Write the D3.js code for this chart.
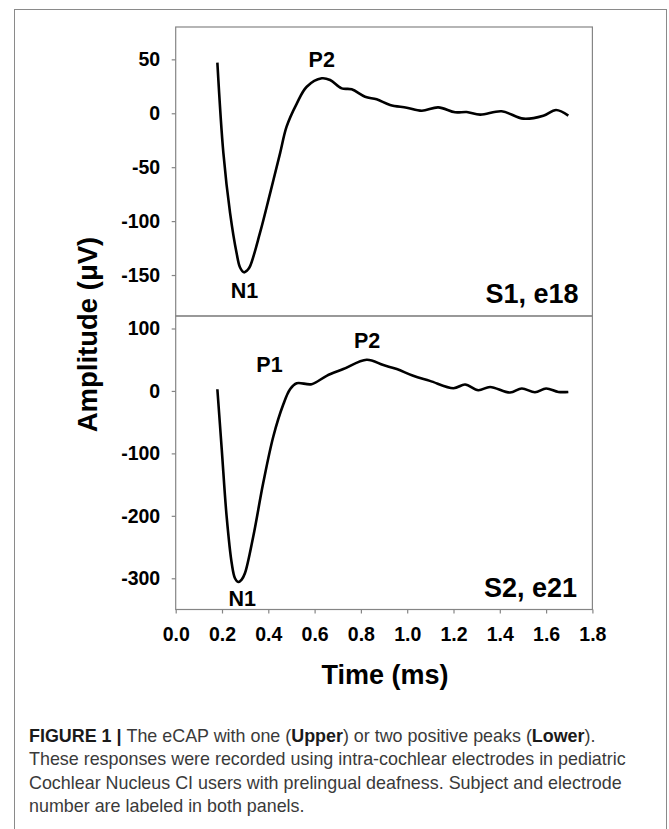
<!DOCTYPE html>
<html>
<head>
<meta charset="utf-8">
<script src="https://cdn.jsdelivr.net/npm/d3@7"></script>
<style>
  html, body { margin: 0; padding: 0; background: #fff; }
  svg { display: block; }
</style>
</head>
<body>
<svg id="chart" width="669" height="829"></svg>
<script>
// ---- data ----
const upperTime = [0.18, 0.206, 0.235, 0.263, 0.278, 0.295, 0.309, 0.321, 0.364, 0.408, 0.451, 0.479, 0.523, 0.566, 0.631, 0.667, 0.717, 0.760, 0.818, 0.868, 0.926, 0.998, 1.063, 1.134, 1.207, 1.257, 1.315, 1.408, 1.502, 1.588, 1.643, 1.696];
const upperAmp  = [47, -37, -92.6, -129.6, -143, -147.5, -145.7, -142, -111, -74, -37, -12.4, 9, 24.6, 32.4, 30.8, 23.1, 22.2, 15.4, 12.9, 7.7, 5.2, 2.4, 5.5, 0.9, 1.2, -1.3, 1.8, -5, -2.2, 3, -2.2];

const lowerTime = [0.18, 0.199, 0.22, 0.242, 0.256, 0.27, 0.285, 0.299, 0.335, 0.378, 0.422, 0.465, 0.494, 0.523, 0.587, 0.652, 0.724, 0.825, 0.897, 0.955, 1.026, 1.098, 1.2, 1.25, 1.307, 1.358, 1.444, 1.495, 1.552, 1.6, 1.653, 1.696];
const lowerAmp  = [2.7, -94, -201, -276, -300, -306, -302, -292, -233, -147.5, -72.5, -21.4, 2.7, 12.4, 10.8, 24.2, 35, 50, 41.4, 35, 24.2, 16.1, 4.3, 10.3, 1.1, 6.4, -2.6, 3.9, -2.1, 3.9, -1.6, -1.6];

const xTicks = [0, 0.2, 0.4, 0.6, 0.8, 1.0, 1.2, 1.4, 1.6, 1.8];
const upperTicks = [50, 0, -50, -100, -150];
const lowerTicks = [100, 0, -100, -200, -300];

const upperLabels = [{text: "P2", t: 0.631, v: 32.4}, {text: "N1", t: 0.295, v: -147.5}];
const lowerLabels = [{text: "P1", t: 0.52, v: 12}, {text: "P2", t: 0.825, v: 50}, {text: "N1", t: 0.27, v: -306}];

// ---- layout ----
const svg = d3.select("#chart");
const FONT = "'Liberation Sans', Arial, Helvetica, sans-serif";
const L = 175.7, R = 592.4;
const upTop = 27, mid = 316, lowBot = 609.5;

const x = d3.scaleLinear().domain([0, 1.8]).range([L, R]);
const yUp = d3.scaleLinear().domain([-188, 80]).range([mid, upTop]);
const yLow = d3.scaleLinear().domain([-350, 120]).range([lowBot, mid]);

// outer figure border
svg.append("rect").attr("x", 14.5).attr("y", 9.5).attr("width", 652).attr("height", 840)
  .attr("fill", "none").attr("stroke", "#8a8a8a").attr("stroke-width", 1);

// panel frames
const frameColor = "#858585";
svg.append("rect").attr("x", L).attr("y", upTop).attr("width", R - L).attr("height", mid - upTop)
  .attr("fill", "none").attr("stroke", frameColor).attr("stroke-width", 1.2);
svg.append("rect").attr("x", L).attr("y", mid).attr("width", R - L).attr("height", lowBot - mid)
  .attr("fill", "none").attr("stroke", frameColor).attr("stroke-width", 1.2);

function styleAxis(g) {
  g.select(".domain").remove();
  g.selectAll(".tick line").attr("stroke", frameColor).attr("stroke-width", 1.2);
  g.selectAll(".tick text").attr("font-family", FONT).attr("font-weight", "bold")
    .attr("font-size", "19.5px").attr("fill", "#000");
}
const intFmt = d => String(d).replace("\u2212", "-");

svg.append("g").attr("transform", `translate(${L},0)`)
  .call(d3.axisLeft(yUp).tickValues(upperTicks).tickFormat(intFmt).tickSize(4).tickPadding(11.5))
  .call(styleAxis);
svg.append("g").attr("transform", `translate(${L},0)`)
  .call(d3.axisLeft(yLow).tickValues(lowerTicks).tickFormat(intFmt).tickSize(4).tickPadding(11.5))
  .call(styleAxis);
svg.append("g").attr("transform", `translate(0,${lowBot})`)
  .call(d3.axisBottom(x).tickValues(xTicks).tickFormat(d => d.toFixed(1)).tickSize(4).tickPadding(14))
  .call(styleAxis);

// curves
const line = (ys) => d3.line().x(d => x(d[0])).y(d => ys(d[1])).curve(d3.curveCatmullRom.alpha(0.5));
svg.append("path").datum(d3.zip(upperTime, upperAmp))
  .attr("d", line(yUp)).attr("fill", "none").attr("stroke", "#000").attr("stroke-width", 2.6)
  .attr("stroke-linejoin", "round").attr("stroke-linecap", "butt");
svg.append("path").datum(d3.zip(lowerTime, lowerAmp))
  .attr("d", line(yLow)).attr("fill", "none").attr("stroke", "#000").attr("stroke-width", 2.6)
  .attr("stroke-linejoin", "round").attr("stroke-linecap", "butt");

// peak labels (placed relative to the peaks)
function peakLabel(lbl, ys, dx, dy) {
  svg.append("text").attr("x", x(lbl.t) + dx).attr("y", ys(lbl.v) + dy)
    .attr("text-anchor", "middle").attr("font-family", FONT).attr("font-weight", "bold")
    .attr("font-size", "21.5px").attr("fill", "#000").text(lbl.text);
}
peakLabel(upperLabels[0], yUp, 0, -11.6);
peakLabel(upperLabels[1], yUp, 0.5, 25.5);
peakLabel(lowerLabels[0], yLow, -26.6, -11.5);
peakLabel(lowerLabels[1], yLow, 0.5, -12);
peakLabel(lowerLabels[2], yLow, 4, 23.5);

// panel id labels
svg.append("text").attr("x", 578.5).attr("y", 303.3).attr("text-anchor", "end")
  .attr("font-family", FONT).attr("font-weight", "bold").attr("font-size", "27px").text("S1, e18");
svg.append("text").attr("x", 577).attr("y", 596.7).attr("text-anchor", "end")
  .attr("font-family", FONT).attr("font-weight", "bold").attr("font-size", "27px").text("S2, e21");

// axis titles
svg.append("text").attr("transform", "translate(97,334.5) rotate(-90)").attr("text-anchor", "middle")
  .attr("font-family", FONT).attr("font-weight", "bold").attr("font-size", "27.5px").text("Amplitude (μV)");
svg.append("text").attr("x", 385).attr("y", 683.5).attr("text-anchor", "middle")
  .attr("font-family", FONT).attr("font-weight", "bold").attr("font-size", "27px").text("Time (ms)");

// caption
const captionLines = [
  [["FIGURE 1 | ", true, "#1a1a1a"], ["The eCAP with one (", false], ["Upper", true], [") or two positive peaks (", false], ["Lower", true], [").", false]],
  [["These responses were recorded using intra-cochlear electrodes in pediatric", false]],
  [["Cochlear Nucleus CI users with prelingual deafness. Subject and electrode", false]],
  [["number are labeled in both panels.", false]]
];
const capBase = [742, 765.3, 788.6, 812];
captionLines.forEach((parts, i) => {
  const t = svg.append("text").attr("x", 29).attr("y", capBase[i])
    .attr("font-family", FONT).attr("font-size", "17.9px").attr("fill", "#3a3a3a");
  parts.forEach(p => {
    t.append("tspan").attr("font-weight", p[1] ? "bold" : "normal")
      .attr("fill", p[2] || (p[1] ? "#1a1a1a" : "#3a3a3a")).text(p[0]);
  });
});
</script>
</body>
</html>
